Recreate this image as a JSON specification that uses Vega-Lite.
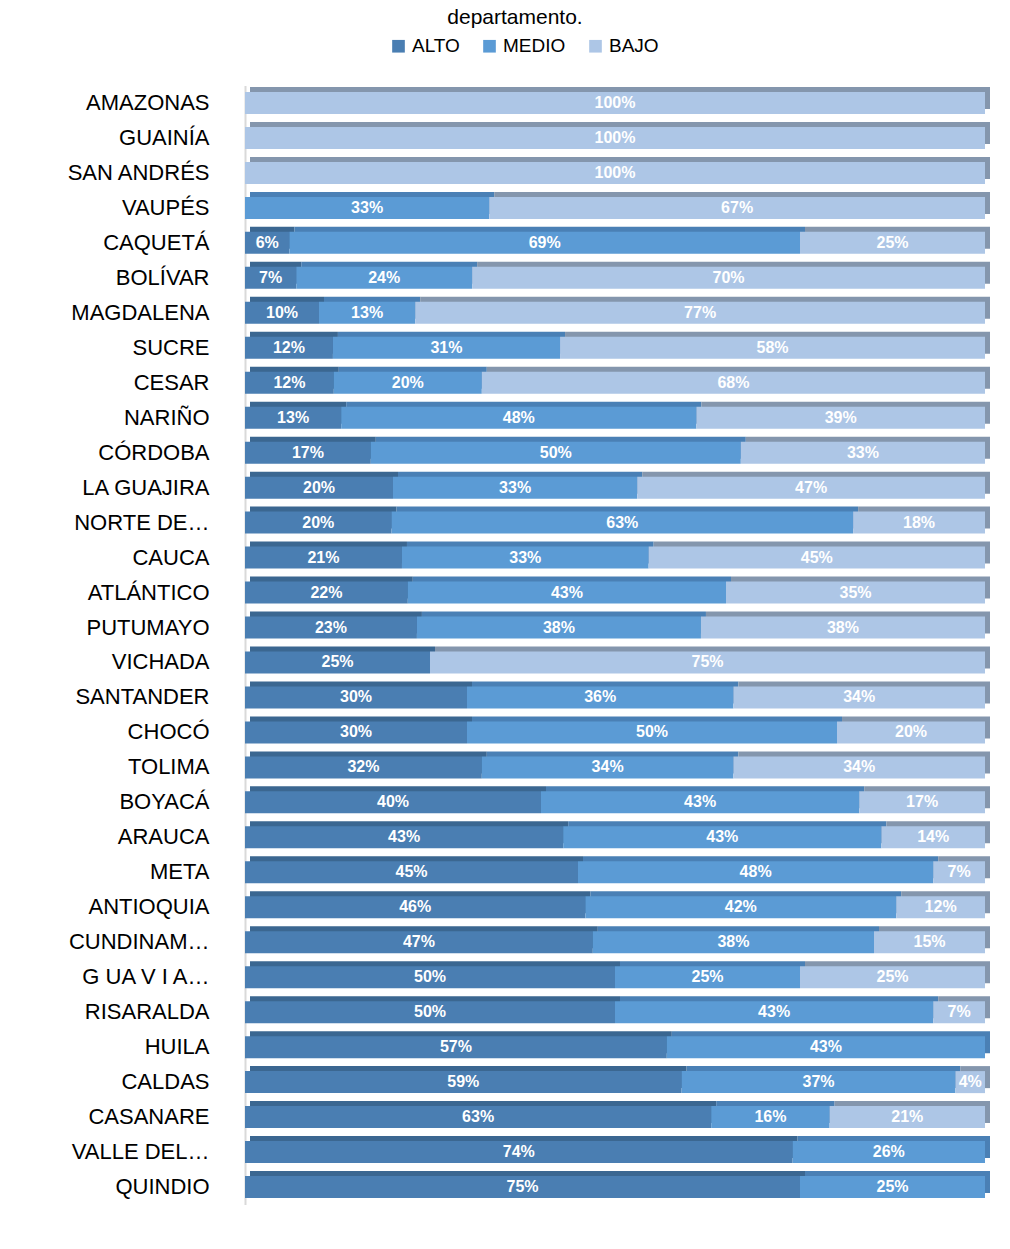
{
  "$schema": "https://vega.github.io/schema/vega-lite/v6.json",
  "width": 740,
  "height": 1119,
  "autosize": {"type": "none"},
  "padding": {"left": 245, "top": 85.5, "right": 25, "bottom": 44.5},
  "background": "white",
  "config": {"view": {"stroke": null}},
  "title": {"text": "departamento.", "anchor": "middle", "frame": "group", "dx": -100, "offset": 9, "fontSize": 21, "fontWeight": "normal", "font": "Liberation Sans", "color": "#000000"},
  "data": {"values": [
    {"d": "AMAZONAS", "n": "BAJO", "o": 3, "v": 100},
    {"d": "GUAINÍA", "n": "BAJO", "o": 3, "v": 100},
    {"d": "SAN ANDRÉS", "n": "BAJO", "o": 3, "v": 100},
    {"d": "VAUPÉS", "n": "MEDIO", "o": 2, "v": 33},
    {"d": "VAUPÉS", "n": "BAJO", "o": 3, "v": 67},
    {"d": "CAQUETÁ", "n": "ALTO", "o": 1, "v": 6},
    {"d": "CAQUETÁ", "n": "MEDIO", "o": 2, "v": 69},
    {"d": "CAQUETÁ", "n": "BAJO", "o": 3, "v": 25},
    {"d": "BOLÍVAR", "n": "ALTO", "o": 1, "v": 7},
    {"d": "BOLÍVAR", "n": "MEDIO", "o": 2, "v": 24},
    {"d": "BOLÍVAR", "n": "BAJO", "o": 3, "v": 70},
    {"d": "MAGDALENA", "n": "ALTO", "o": 1, "v": 10},
    {"d": "MAGDALENA", "n": "MEDIO", "o": 2, "v": 13},
    {"d": "MAGDALENA", "n": "BAJO", "o": 3, "v": 77},
    {"d": "SUCRE", "n": "ALTO", "o": 1, "v": 12},
    {"d": "SUCRE", "n": "MEDIO", "o": 2, "v": 31},
    {"d": "SUCRE", "n": "BAJO", "o": 3, "v": 58},
    {"d": "CESAR", "n": "ALTO", "o": 1, "v": 12},
    {"d": "CESAR", "n": "MEDIO", "o": 2, "v": 20},
    {"d": "CESAR", "n": "BAJO", "o": 3, "v": 68},
    {"d": "NARIÑO", "n": "ALTO", "o": 1, "v": 13},
    {"d": "NARIÑO", "n": "MEDIO", "o": 2, "v": 48},
    {"d": "NARIÑO", "n": "BAJO", "o": 3, "v": 39},
    {"d": "CÓRDOBA", "n": "ALTO", "o": 1, "v": 17},
    {"d": "CÓRDOBA", "n": "MEDIO", "o": 2, "v": 50},
    {"d": "CÓRDOBA", "n": "BAJO", "o": 3, "v": 33},
    {"d": "LA GUAJIRA", "n": "ALTO", "o": 1, "v": 20},
    {"d": "LA GUAJIRA", "n": "MEDIO", "o": 2, "v": 33},
    {"d": "LA GUAJIRA", "n": "BAJO", "o": 3, "v": 47},
    {"d": "NORTE DE…", "n": "ALTO", "o": 1, "v": 20},
    {"d": "NORTE DE…", "n": "MEDIO", "o": 2, "v": 63},
    {"d": "NORTE DE…", "n": "BAJO", "o": 3, "v": 18},
    {"d": "CAUCA", "n": "ALTO", "o": 1, "v": 21},
    {"d": "CAUCA", "n": "MEDIO", "o": 2, "v": 33},
    {"d": "CAUCA", "n": "BAJO", "o": 3, "v": 45},
    {"d": "ATLÁNTICO", "n": "ALTO", "o": 1, "v": 22},
    {"d": "ATLÁNTICO", "n": "MEDIO", "o": 2, "v": 43},
    {"d": "ATLÁNTICO", "n": "BAJO", "o": 3, "v": 35},
    {"d": "PUTUMAYO", "n": "ALTO", "o": 1, "v": 23},
    {"d": "PUTUMAYO", "n": "MEDIO", "o": 2, "v": 38},
    {"d": "PUTUMAYO", "n": "BAJO", "o": 3, "v": 38},
    {"d": "VICHADA", "n": "ALTO", "o": 1, "v": 25},
    {"d": "VICHADA", "n": "BAJO", "o": 3, "v": 75},
    {"d": "SANTANDER", "n": "ALTO", "o": 1, "v": 30},
    {"d": "SANTANDER", "n": "MEDIO", "o": 2, "v": 36},
    {"d": "SANTANDER", "n": "BAJO", "o": 3, "v": 34},
    {"d": "CHOCÓ", "n": "ALTO", "o": 1, "v": 30},
    {"d": "CHOCÓ", "n": "MEDIO", "o": 2, "v": 50},
    {"d": "CHOCÓ", "n": "BAJO", "o": 3, "v": 20},
    {"d": "TOLIMA", "n": "ALTO", "o": 1, "v": 32},
    {"d": "TOLIMA", "n": "MEDIO", "o": 2, "v": 34},
    {"d": "TOLIMA", "n": "BAJO", "o": 3, "v": 34},
    {"d": "BOYACÁ", "n": "ALTO", "o": 1, "v": 40},
    {"d": "BOYACÁ", "n": "MEDIO", "o": 2, "v": 43},
    {"d": "BOYACÁ", "n": "BAJO", "o": 3, "v": 17},
    {"d": "ARAUCA", "n": "ALTO", "o": 1, "v": 43},
    {"d": "ARAUCA", "n": "MEDIO", "o": 2, "v": 43},
    {"d": "ARAUCA", "n": "BAJO", "o": 3, "v": 14},
    {"d": "META", "n": "ALTO", "o": 1, "v": 45},
    {"d": "META", "n": "MEDIO", "o": 2, "v": 48},
    {"d": "META", "n": "BAJO", "o": 3, "v": 7},
    {"d": "ANTIOQUIA", "n": "ALTO", "o": 1, "v": 46},
    {"d": "ANTIOQUIA", "n": "MEDIO", "o": 2, "v": 42},
    {"d": "ANTIOQUIA", "n": "BAJO", "o": 3, "v": 12},
    {"d": "CUNDINAM…", "n": "ALTO", "o": 1, "v": 47},
    {"d": "CUNDINAM…", "n": "MEDIO", "o": 2, "v": 38},
    {"d": "CUNDINAM…", "n": "BAJO", "o": 3, "v": 15},
    {"d": "G UA V I A…", "n": "ALTO", "o": 1, "v": 50},
    {"d": "G UA V I A…", "n": "MEDIO", "o": 2, "v": 25},
    {"d": "G UA V I A…", "n": "BAJO", "o": 3, "v": 25},
    {"d": "RISARALDA", "n": "ALTO", "o": 1, "v": 50},
    {"d": "RISARALDA", "n": "MEDIO", "o": 2, "v": 43},
    {"d": "RISARALDA", "n": "BAJO", "o": 3, "v": 7},
    {"d": "HUILA", "n": "ALTO", "o": 1, "v": 57},
    {"d": "HUILA", "n": "MEDIO", "o": 2, "v": 43},
    {"d": "CALDAS", "n": "ALTO", "o": 1, "v": 59},
    {"d": "CALDAS", "n": "MEDIO", "o": 2, "v": 37},
    {"d": "CALDAS", "n": "BAJO", "o": 3, "v": 4},
    {"d": "CASANARE", "n": "ALTO", "o": 1, "v": 63},
    {"d": "CASANARE", "n": "MEDIO", "o": 2, "v": 16},
    {"d": "CASANARE", "n": "BAJO", "o": 3, "v": 21},
    {"d": "VALLE DEL…", "n": "ALTO", "o": 1, "v": 74},
    {"d": "VALLE DEL…", "n": "MEDIO", "o": 2, "v": 26},
    {"d": "QUINDIO", "n": "ALTO", "o": 1, "v": 75},
    {"d": "QUINDIO", "n": "MEDIO", "o": 2, "v": 25}
  ]},
  "transform": [
    {"stack": "v", "groupby": ["d"], "sort": [{"field": "o", "order": "ascending"}], "offset": "normalize", "as": ["x0", "x1"]},
    {"calculate": "(datum.x0 + datum.x1) / 2", "as": "mid"},
    {"calculate": "datum.v + '%'", "as": "lab"}
  ],
  "encoding": {
    "y": {"field": "d", "type": "nominal", "sort": null,
      "scale": {"paddingInner": 0.37, "paddingOuter": 0.185},
      "axis": {"title": null, "ticks": false, "domain": true, "domainColor": "#d9d9d9", "domainWidth": 2, "labelFont": "Liberation Sans", "labelFontSize": 22, "labelColor": "#000000", "labelPadding": 36, "labelLimit": 300}
    }
  },
  "layer": [
    {
      "mark": {"type": "bar", "xOffset": 5, "x2Offset": 5, "yOffset": -5, "y2Offset": -5},
      "encoding": {
        "x": {"field": "x0", "type": "quantitative", "scale": {"domain": [0, 1], "nice": false}, "axis": null},
        "x2": {"field": "x1"},
        "color": {"field": "n", "type": "nominal", "scale": {"domain": ["ALTO", "MEDIO", "BAJO"], "range": ["#3b6791", "#4a80b5", "#8496ad"]}, "legend": null}
      }
    },
    {
      "mark": {"type": "bar"},
      "encoding": {
        "x": {"field": "x0", "type": "quantitative", "scale": {"domain": [0, 1], "nice": false}, "axis": null},
        "x2": {"field": "x1"},
        "color": {"field": "n", "type": "nominal", "scale": {"domain": ["ALTO", "MEDIO", "BAJO"], "range": ["#4a7eb2", "#5b9bd5", "#adc6e6"]},
          "legend": {"title": null, "orient": "none", "legendX": 144, "legendY": -49, "direction": "horizontal", "symbolType": "square", "symbolSize": 160, "symbolStrokeWidth": 0, "labelFont": "Liberation Sans", "labelFontSize": 19, "labelColor": "#000000", "columnPadding": 20, "labelOffset": 4}}
      }
    },
    {
      "mark": {"type": "text", "color": "white", "font": "Liberation Sans", "fontWeight": "bold", "fontSize": 16, "baseline": "middle", "align": "center"},
      "encoding": {
        "x": {"field": "mid", "type": "quantitative", "scale": {"domain": [0, 1], "nice": false}, "axis": null},
        "text": {"field": "lab", "type": "nominal"}
      }
    }
  ],
  "resolve": {"scale": {"color": "independent"}}
}
